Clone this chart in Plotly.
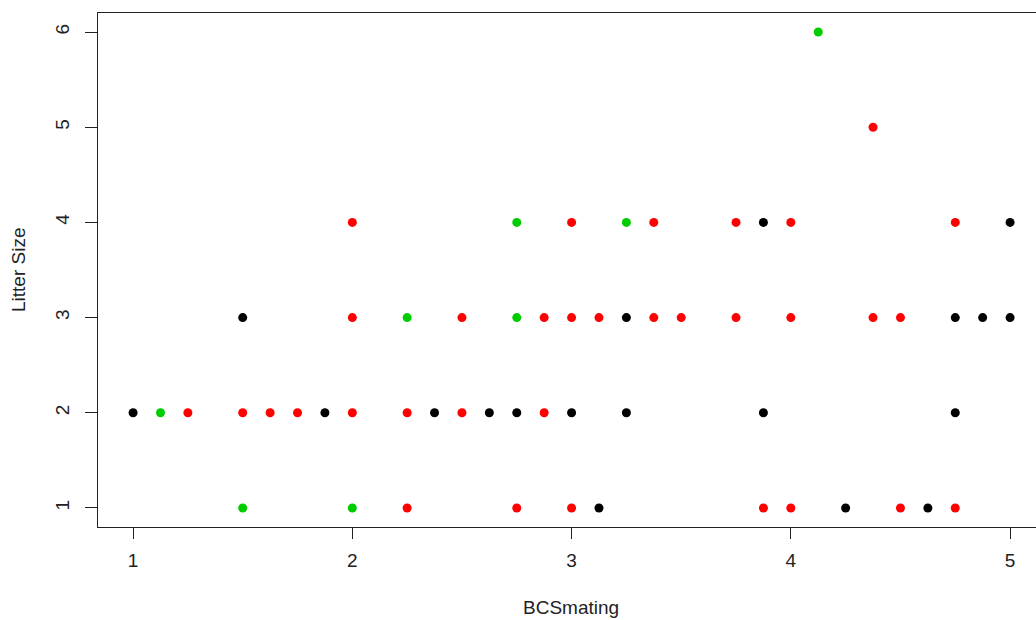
import plotly.graph_objects as go

# Data (BCSmating vs Litter Size, three colour groups)
black_x = [1, 1.875, 2.375, 2.625, 2.75, 3, 3.25, 3.875, 4.75,
           3.125, 4.25, 4.625,
           1.5, 3.25, 4.75, 4.875, 5,
           3.875, 5]
black_y = [2, 2, 2, 2, 2, 2, 2, 2, 2,
           1, 1, 1,
           3, 3, 3, 3, 3,
           4, 4]

red_x = [1.25, 1.5, 1.625, 1.75, 2, 2.25, 2.5, 2.875,
         2.25, 2.75, 3, 3.875, 4, 4.5, 4.75,
         2, 2.5, 2.875, 3, 3.125, 3.375, 3.5, 3.75, 4, 4.375, 4.5,
         2, 3, 3.375, 3.75, 4, 4.75,
         4.375]
red_y = [2, 2, 2, 2, 2, 2, 2, 2,
         1, 1, 1, 1, 1, 1, 1,
         3, 3, 3, 3, 3, 3, 3, 3, 3, 3, 3,
         4, 4, 4, 4, 4, 4,
         5]

green_x = [1.125, 1.5, 2, 2.25, 2.75, 2.75, 3.25, 4.125]
green_y = [2, 1, 1, 3, 3, 4, 4, 6]

x_ticks = [1, 2, 3, 4, 5]
y_ticks = [1, 2, 3, 4, 5, 6]

FONT = "Liberation Sans, Arial, sans-serif"

fig = go.Figure()
for xs, ys, col in [(black_x, black_y, "#000000"),
                    (red_x, red_y, "#FF0000"),
                    (green_x, green_y, "#00CD00")]:
    fig.add_trace(go.Scatter(x=xs, y=ys, mode="markers",
                             marker=dict(color=col, size=9, line=dict(width=0)),
                             hoverinfo="skip", showlegend=False))

fig.update_layout(
    width=1036, height=620,
    margin=dict(l=98, r=0, t=13, b=93),
    paper_bgcolor="white", plot_bgcolor="white",
    font=dict(family=FONT, size=19, color="#222222"),
    xaxis=dict(range=[0.84, 0.84 + 938 / 219.25], tickvals=x_ticks,
               showgrid=False, zeroline=False,
               showline=True, mirror=True, linecolor="#222222", linewidth=1,
               ticks="outside", ticklen=11, tickcolor="#222222", tickwidth=1,
               ticklabelstandoff=5,
               tickfont=dict(size=19, family=FONT, color="#222222")),
    yaxis=dict(range=[0.8, 6.2], tickvals=y_ticks,
               showgrid=False, zeroline=False,
               showline=True, mirror=False, linecolor="#222222", linewidth=1,
               ticks="outside", ticklen=12, tickcolor="#222222", tickwidth=1,
               tickangle=-90, ticklabelstandoff=8,
               tickfont=dict(size=19, family=FONT, color="#222222")),
    annotations=[
        dict(text="BCSmating", xref="paper", yref="paper",
             x=(571 - 98) / 938, y=-(607 - 527) / 514,
             xanchor="center", yanchor="middle", showarrow=False,
             font=dict(size=19, family=FONT, color="#222222")),
        dict(text="Litter Size", xref="paper", yref="paper",
             x=-(98 - 18) / 938, y=0.5, textangle=-90,
             xanchor="center", yanchor="middle", showarrow=False,
             font=dict(size=19, family=FONT, color="#222222")),
    ],
)

fig.write_html("out.html", config={"displayModeBar": False})
